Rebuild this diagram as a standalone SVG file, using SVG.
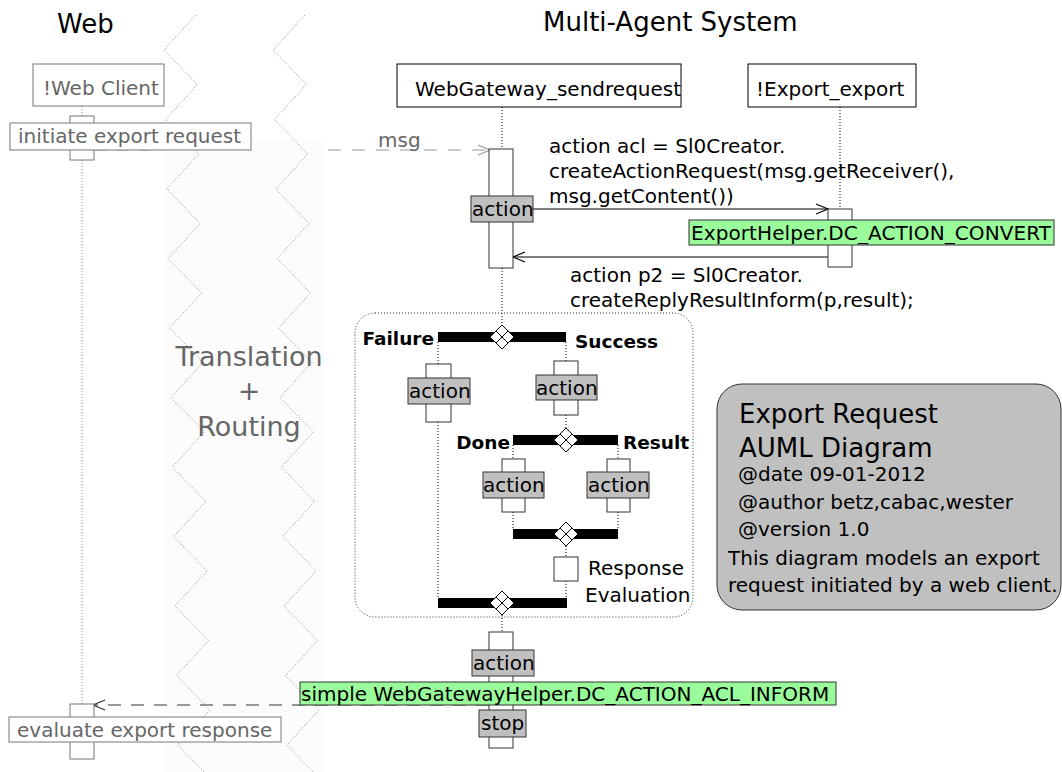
<svg xmlns="http://www.w3.org/2000/svg" width="1062" height="772" viewBox="0 0 1062 772">
<defs>
<style>
.t{font-family:"DejaVu Sans","Liberation Sans",sans-serif;font-size:20px;fill:#000}
.gt{fill:#666}
.big{font-size:26px}
.tr{font-size:27px}
.b{font-weight:bold;font-size:18.5px}
.life{stroke:#000;stroke-dasharray:1 2;fill:none}
.glife{stroke:#888;stroke-dasharray:1 2;fill:none}
.act{fill:#fff;stroke:#333}
.gact{fill:#fff;stroke:#777}
.lbl{fill:#c0c0c0;stroke:#333}
.green{fill:#99fb99;stroke:#333}
.bar{fill:#000}
.dia{fill:#fff;stroke:#000}
.zz{fill:none;stroke:#888;stroke-dasharray:1 2}
</style>
<marker id="ah" markerUnits="userSpaceOnUse" markerWidth="16" markerHeight="14" refX="13" refY="6" orient="auto">
<path d="M1,1 L13,6 L1,11" fill="none" stroke="#000" stroke-width="1.2"/>
</marker>
<marker id="ahg" markerUnits="userSpaceOnUse" markerWidth="16" markerHeight="14" refX="13" refY="6" orient="auto">
<path d="M1,1 L13,6 L1,11" fill="none" stroke="#999" stroke-width="1.2"/>
</marker>
<marker id="ahd" markerUnits="userSpaceOnUse" markerWidth="16" markerHeight="14" refX="13" refY="6" orient="auto">
<path d="M1,1 L13,6 L1,11" fill="none" stroke="#333" stroke-width="1.2"/>
</marker>
</defs>
<rect width="1062" height="772" fill="#fff"/>

<g id="titles">
<text class="t big" x="57" y="33">Web</text>
<text class="t big" x="543" y="31">Multi-Agent System</text>
</g>

<g id="connectors-back">
<path d="M95,150 H162" stroke="#999" stroke-dasharray="11 11" fill="none"/>
</g>

<g id="routing-zone">
<rect x="165" y="140" width="161" height="632" fill="#fcfcfc"/>
<path class="zz" d="M196,15 L164,50 L197.4,84.5 L165.4,119.5 L198.8,154 L166.8,189 L200.2,223.5 L168.2,258.5 L201.6,293 L169.6,328 L203,362.5 L171,397.5 L204.4,432 L172.4,467 L205.7,501.5 L173.7,536.5 L207.1,571 L175.1,606 L208.5,640.5 L176.5,675.5 L209.9,710 L177.9,745 L211.3,779.5"/>
<path class="zz" d="M305,15 L273,50 L306.4,84.5 L274.4,119.5 L307.8,154 L275.8,189 L309.2,223.5 L277.2,258.5 L310.6,293 L278.6,328 L312,362.5 L280,397.5 L313.4,432 L281.4,467 L314.7,501.5 L282.7,536.5 L316.1,571 L284.1,606 L317.5,640.5 L285.5,675.5 L318.9,710 L286.9,745 L320.3,779.5"/>
<text class="t tr gt" x="249" y="366" text-anchor="middle">Translation</text>
<text class="t tr gt" x="249" y="400" text-anchor="middle">+</text>
<text class="t tr gt" x="249" y="436" text-anchor="middle">Routing</text>
</g>

<g id="connectors">
<path class="glife" d="M82,106 V704"/>
<path class="life" d="M502,107 V149 M502,268 V325 M502,615 V632"/>
<path class="life" d="M840,107 V209"/>
<path d="M328,150 H490" stroke="#999" stroke-dasharray="13 11" fill="none" marker-end="url(#ahg)"/>
<text class="t gt" x="378" y="147">msg</text>
<path d="M533,209 H828" stroke="#000" fill="none" marker-end="url(#ah)"/>
<path d="M828,257 H513" stroke="#000" fill="none" marker-end="url(#ah)"/>
<path d="M489,705 H93" stroke="#333" stroke-dasharray="13 10" fill="none" marker-end="url(#ahd)"/>
<path class="life" d="M438,342 V364 M438,422 V598 M566,342 V361 M566,415 V428 M513,445 V459 M618,445 V459 M513,512 V529 M618,512 V529 M566,546 V557 M566,581 V598"/>
</g>

<g id="web-client">
<rect x="33" y="64" width="131" height="42" fill="#fff" stroke="#777"/>
<text class="t gt" x="43" y="95">!Web Client</text>
</g>

<g id="initiate-export-request">
<rect class="gact" x="70" y="116" width="24" height="44"/>
<rect x="10" y="123" width="241" height="27" fill="#fff" stroke="#777"/>
<text class="t gt" x="18" y="143">initiate export request</text>
</g>

<g id="evaluate-export-response">
<rect class="gact" x="70" y="704" width="24" height="55"/>
<rect x="9" y="717" width="272" height="25" fill="#fff" stroke="#777"/>
<text class="t gt" x="17" y="737">evaluate export response</text>
</g>

<g id="webgateway">
<rect x="397" y="64" width="284" height="43" fill="#fff" stroke="#000"/>
<text class="t" x="415" y="96">WebGateway_sendrequest</text>
</g>

<g id="export">
<rect x="748" y="64" width="168" height="43" fill="#fff" stroke="#000"/>
<text class="t" x="756" y="96">!Export_export</text>
</g>

<g id="gateway-action">
<rect class="act" x="489" y="149" width="24" height="119"/>
<rect class="lbl" x="471" y="196" width="62" height="26"/>
<text class="t" x="472" y="216">action</text>
</g>

<g id="request-text">
<text class="t" x="549" y="153">action acl = Sl0Creator.</text>
<text class="t" x="549" y="178">createActionRequest(msg.getReceiver(),</text>
<text class="t" x="549" y="203">msg.getContent())</text>
</g>

<g id="export-action">
<rect class="act" x="828" y="209" width="24" height="58"/>
<rect class="green" x="689" y="220" width="365" height="25"/>
<text class="t" x="691" y="240" textLength="360">ExportHelper.DC_ACTION_CONVERT</text>
</g>

<g id="reply-text">
<text class="t" x="570" y="282">action p2 = Sl0Creator.</text>
<text class="t" x="570" y="307">createReplyResultInform(p,result);</text>
</g>

<g id="interaction-region">
<rect x="355" y="313" width="338" height="304" rx="20" ry="20" fill="none" stroke="#333" stroke-dasharray="1 2"/>
</g>

<g id="fork-failure-success">
<rect class="bar" x="438" y="332" width="128" height="10"/>
<path class="dia" d="M502,325 L514,337 L502,349 L490,337 Z M496,331 L508,343 M508,331 L496,343"/>
<text class="t b" x="434" y="345" text-anchor="end">Failure</text>
<text class="t b" x="575" y="348">Success</text>
</g>

<g id="failure-action">
<rect class="act" x="426" y="364" width="25" height="58"/>
<rect class="lbl" x="408" y="378" width="62" height="26"/>
<text class="t" x="409" y="398">action</text>
</g>

<g id="success-action">
<rect class="act" x="554" y="361" width="24" height="54"/>
<rect class="lbl" x="536" y="375" width="61" height="25"/>
<text class="t" x="536" y="395">action</text>
</g>

<g id="fork-done-result">
<rect class="bar" x="513" y="435" width="105" height="10"/>
<path class="dia" d="M566,428 L578,440 L566,452 L554,440 Z M560,434 L572,446 M572,434 L560,446"/>
<text class="t b" x="510" y="449" text-anchor="end">Done</text>
<text class="t b" x="623" y="449">Result</text>
</g>

<g id="done-action">
<rect class="act" x="502" y="459" width="23" height="53"/>
<rect class="lbl" x="483" y="472" width="61" height="26"/>
<text class="t" x="483" y="492">action</text>
</g>

<g id="result-action">
<rect class="act" x="607" y="459" width="23" height="53"/>
<rect class="lbl" x="587" y="472" width="62" height="26"/>
<text class="t" x="588" y="492">action</text>
</g>

<g id="join-done-result">
<rect class="bar" x="513" y="529" width="105" height="10"/>
<path class="dia" d="M566,522 L578,534 L566,546 L554,534 Z M560,528 L572,540 M572,528 L560,540"/>
</g>

<g id="response-evaluation">
<rect class="act" x="554" y="557" width="24" height="24"/>
<text class="t" x="588" y="575">Response</text>
<text class="t" x="585" y="602">Evaluation</text>
</g>

<g id="join-failure-success">
<rect class="bar" x="438" y="598" width="129" height="10"/>
<path class="dia" d="M502,591 L514,603 L502,615 L490,603 Z M496,597 L508,609 M508,597 L496,609"/>
</g>

<g id="final-action">
<rect class="act" x="489" y="632" width="24" height="116"/>
<rect class="lbl" x="472" y="650" width="62" height="26"/>
<text class="t" x="473" y="670">action</text>
<rect class="green" x="300" y="682" width="536" height="23"/>
<text class="t" x="301" y="701">simple WebGatewayHelper.DC_ACTION_ACL_INFORM</text>
<rect class="lbl" x="479" y="710" width="47" height="27"/>
<text class="t" x="481" y="730">stop</text>
</g>

<g id="note">
<rect x="717" y="384" width="344" height="226" rx="25" ry="25" fill="#c0c0c0" stroke="#333"/>
<text class="t big" x="739" y="423">Export Request</text>
<text class="t big" x="739" y="457">AUML Diagram</text>
<text class="t" x="738" y="481">@date 09-01-2012</text>
<text class="t" x="738" y="509">@author betz,cabac,wester</text>
<text class="t" x="738" y="536">@version 1.0</text>
<text class="t" x="728" y="565">This diagram models an export</text>
<text class="t" x="728" y="592">request initiated by a web client.</text>
</g>
</svg>
